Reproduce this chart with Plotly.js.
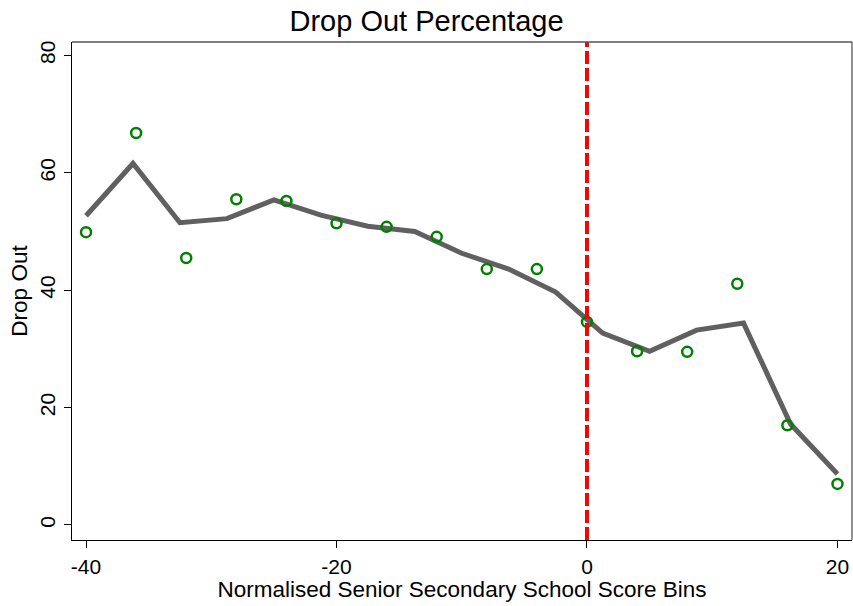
<!DOCTYPE html>
<html>
<head>
<meta charset="utf-8">
<script src="https://cdn.plot.ly/plotly-3.0.1.min.js"></script>
<style>
html,body{margin:0;padding:0;background:#fff;}
#chart{width:853px;height:606px;}
</style>
</head>
<body>
<div id="chart"></div>
<script>
// Binned means (scatter)
var binX = [-40, -36, -32, -28, -24, -20, -16, -12, -8, -4, 0, 4, 8, 12, 16, 20];
var binY = [49.9, 66.8, 45.5, 55.5, 55.2, 51.4, 50.8, 49.1, 43.6, 43.6, 34.6, 29.6, 29.5, 41.1, 17.0, 7.0];
// Smoothed fit (line)
var fitX = [-40, -36.25, -32.5, -28.75, -25, -21.25, -17.5, -13.75, -10, -6.25, -2.5, 1.25, 5, 8.75, 12.5, 16.25, 20];
var fitY = [52.7, 61.6, 51.5, 52.2, 55.4, 52.8, 50.9, 50.0, 46.3, 43.6, 39.7, 32.7, 29.6, 33.2, 34.4, 17.2, 8.7];
// Cutoff
var cutoff = 0;
var xTicks = [-40, -20, 0, 20];
var yTicks = [0, 20, 40, 60, 80];

var font = 'Liberation Sans, Arial, sans-serif';

var traces = [
  {
    x: fitX, y: fitY, type: 'scatter', mode: 'lines',
    line: {color: '#606060', width: 5},
    hoverinfo: 'skip', showlegend: false
  },
  {
    x: binX, y: binY, type: 'scatter', mode: 'markers',
    marker: {symbol: 'circle-open', size: 10, color: '#008000', line: {color: '#008000', width: 2.5}},
    showlegend: false
  }
];

var layout = {
  width: 853, height: 606,
  paper_bgcolor: '#ffffff', plot_bgcolor: '#ffffff',
  margin: {l: 72, r: 1, t: 42, b: 66, pad: 0},
  font: {family: font, color: '#000000'},
  title: {
    text: 'Drop Out Percentage',
    font: {family: font, size: 29, color: '#000000'},
    x: 0.5, xref: 'container', xanchor: 'center',
    y: 1 - 21 / 606, yref: 'container', yanchor: 'middle'
  },
  xaxis: {
    range: [-41.12, 21.16],
    tickvals: xTicks, ticktext: xTicks.map(String),
    ticks: 'outside', ticklen: 7, tickwidth: 1, tickcolor: '#000',
    showline: true, linecolor: '#000', linewidth: 1.3,
    showgrid: false, zeroline: false,
    tickfont: {family: font, size: 21, color: '#000'},
    title: {text: 'Normalised Senior Secondary School Score Bins', font: {family: font, size: 22.5, color: '#000'}, standoff: 2}
  },
  yaxis: {
    range: [-2.56, 82.3],
    tickvals: yTicks, ticktext: yTicks.map(String),
    tickangle: -90,
    ticks: 'outside', ticklen: 7, tickwidth: 1, tickcolor: '#000',
    showline: true, linecolor: '#000', linewidth: 1.3,
    showgrid: false, zeroline: false,
    tickfont: {family: font, size: 21, color: '#000'},
    title: {text: 'Drop Out', font: {family: font, size: 22.5, color: '#000'}, standoff: 2}
  },
  shapes: [
    {type: 'line', xref: 'x', yref: 'paper', x0: cutoff, x1: cutoff, y0: 0, y1: 1,
     line: {color: '#ff0000', width: 4, dash: '13px,4px'}},
    {type: 'line', xref: 'paper', yref: 'paper', x0: 0, x1: 1, y0: 1, y1: 1,
     line: {color: '#555555', width: 1.3}},
    {type: 'line', xref: 'paper', yref: 'paper', x0: 1, x1: 1, y0: 0, y1: 1,
     line: {color: '#555555', width: 1.3}}
  ]
};

Plotly.newPlot('chart', traces, layout, {displayModeBar: false, staticPlot: true});
</script>
</body>
</html>
